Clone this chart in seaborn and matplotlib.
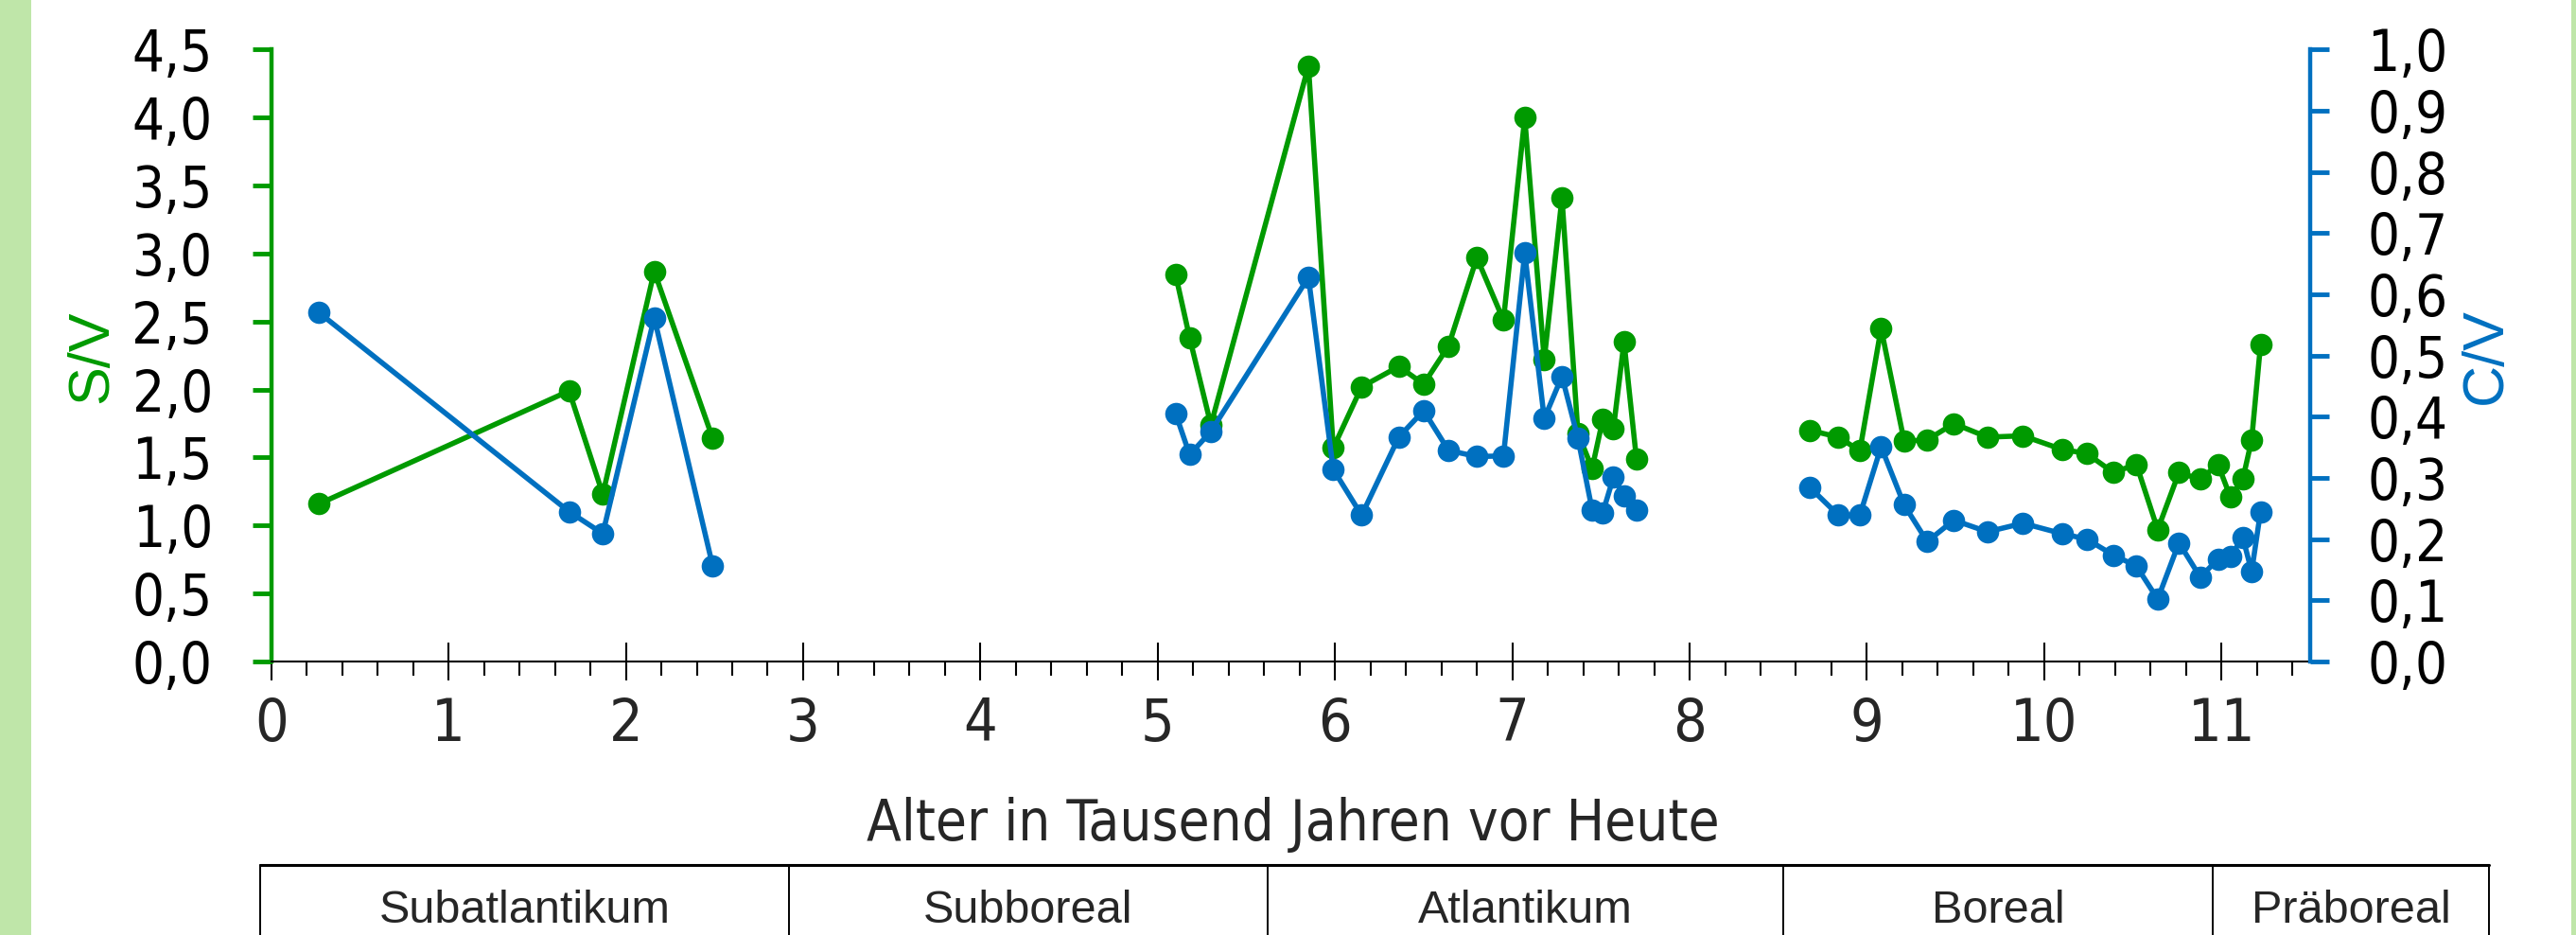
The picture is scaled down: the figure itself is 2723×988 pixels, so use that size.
import matplotlib.pyplot as plt
import matplotlib.transforms as mtransforms
import pandas as pd
import seaborn as sns
from matplotlib import font_manager
from matplotlib.lines import Line2D
from matplotlib.patches import Rectangle
from matplotlib.ticker import FuncFormatter, MultipleLocator

GREEN = "#009a00"
BLUE = "#0070c0"
BAND = "#bfe6a9"

# age in thousand years before present, three sample groups
age = [0.27, 1.68, 1.87, 2.16, 2.49,
       5.10, 5.18, 5.30, 5.85, 5.99, 6.15, 6.36, 6.50, 6.64, 6.80,
       6.95, 7.07, 7.18, 7.28, 7.37, 7.45, 7.51, 7.57, 7.63, 7.70,
       8.68, 8.84, 8.96, 9.08, 9.21, 9.34, 9.49, 9.68, 9.88, 10.10,
       10.24, 10.39, 10.52, 10.64, 10.76, 10.88, 10.98, 11.05, 11.12, 11.17, 11.22]
group = [1] * 5 + [2] * 20 + [3] * 21

# S/V ratio (left axis)
sv = [1.16, 1.99, 1.23, 2.87, 1.64,
      2.85, 2.38, 1.74, 4.38, 1.57, 2.02, 2.17, 2.04, 2.32, 2.97,
      2.51, 4.00, 2.22, 3.41, 1.68, 1.42, 1.78, 1.71, 2.35, 1.49,
      1.70, 1.65, 1.55, 2.45, 1.62, 1.63, 1.75, 1.65, 1.66, 1.56,
      1.53, 1.39, 1.45, 0.97, 1.39, 1.34, 1.45, 1.21, 1.34, 1.63, 2.33]

# C/V ratio (right axis)
cv = [0.570, 0.245, 0.209, 0.562, 0.156,
      0.406, 0.338, 0.376, 0.628, 0.314, 0.239, 0.367, 0.410, 0.345, 0.335,
      0.336, 0.668, 0.397, 0.466, 0.365, 0.248, 0.243, 0.301, 0.271, 0.247,
      0.284, 0.239, 0.239, 0.351, 0.256, 0.196, 0.231, 0.212, 0.226, 0.209,
      0.200, 0.174, 0.156, 0.102, 0.194, 0.138, 0.167, 0.171, 0.203, 0.147, 0.245]

# stratigraphic periods below the chart (edges in thousand years)
periods = ["Subatlantikum", "Subboreal", "Atlantikum", "Boreal", "Präboreal"]
period_edges = [-0.06, 2.92, 5.62, 8.53, 10.95, 12.51]

sns.set_style("white")
names = {f.name for f in font_manager.fontManager.ttflist}
NARROW = "Liberation Sans Narrow" if "Liberation Sans Narrow" in names else "DejaVu Sans"
plt.rcParams["font.family"] = [NARROW, "DejaVu Sans"]
plt.rcParams["font.stretch"] = "condensed"
PLAIN = dict(family=["Liberation Sans", "DejaVu Sans"], fontstretch="normal")

df = pd.DataFrame({"age": age, "group": group, "sv": sv, "cv": cv})

fig = plt.figure(figsize=(27.23, 9.88), dpi=100)
ax = fig.add_axes([0.1053, 0.2925, 0.8968 - 0.1053, 0.9469 - 0.2925])
ax2 = ax.twinx()

line_kw = dict(marker="o", markersize=17, linewidth=4.0, markeredgewidth=0,
               estimator=None, units="group", legend=False)
sns.lineplot(data=df, x="age", y="sv", color=GREEN, ax=ax, **line_kw)
sns.lineplot(data=df, x="age", y="cv", color=BLUE, ax=ax2, **line_kw)

ax.set_xlim(0, 11.5)
ax.set_ylim(0, 4.5)
ax2.set_ylim(0, 1.0)

comma = FuncFormatter(lambda v, pos: f"{v:.1f}".replace(".", ","))
ax.yaxis.set_major_locator(MultipleLocator(0.5))
ax.yaxis.set_major_formatter(comma)
ax2.yaxis.set_major_locator(MultipleLocator(0.1))
ax2.yaxis.set_major_formatter(comma)
ax.xaxis.set_major_locator(MultipleLocator(1))
ax.xaxis.set_minor_locator(MultipleLocator(0.2))

for sp in ["top", "right"]:
    ax.spines[sp].set_visible(False)
for sp in ["top", "left", "bottom"]:
    ax2.spines[sp].set_visible(False)
ax.spines["left"].set_color(GREEN)
ax.spines["left"].set_linewidth(3.2)
ax.spines["bottom"].set_color("black")
ax.spines["bottom"].set_linewidth(1.5)
ax2.spines["right"].set_color(BLUE)
ax2.spines["right"].set_linewidth(3.2)

ax.tick_params(axis="y", direction="out", length=14.5, width=3.5, color=GREEN,
               labelsize=43, pad=30, labelcolor="black", left=True)
ax2.tick_params(axis="y", direction="out", length=14.5, width=3.5, color=BLUE,
                labelsize=43, pad=29, labelcolor="black", right=True)
ax.tick_params(axis="x", which="major", direction="inout", length=29, width=1.5,
               color="black", labelsize=45, pad=12, bottom=True)
ax.tick_params(axis="x", which="minor", direction="out", length=11, width=1.5,
               color="black", bottom=True)
ax.set_xlabel("")
ax.set_ylabel("")
ax2.set_ylabel("")

fig.text(0.502, (988 - 888) / 988, "Alter in Tausend Jahren vor Heute",
         ha="center", va="baseline", fontsize=43)
fig.text(98 / 2723, (988 - 377) / 988, "S/V", rotation=90, ha="center", va="center",
         color=GREEN, fontsize=44, **PLAIN)
fig.text(2628 / 2723, (988 - 376) / 988, "C/V", rotation=90, ha="center", va="center",
         color=BLUE, fontsize=44, **PLAIN)

# green side bands
fig.add_artist(Rectangle((0, 0), 33 / 2723, 1, transform=fig.transFigure,
                         color=BAND, lw=0))
fig.add_artist(Rectangle((2718 / 2723, 0), 5 / 2723, 1, transform=fig.transFigure,
                         color=BAND, lw=0))

# period table
trans = mtransforms.blended_transform_factory(ax.transData, fig.transFigure)
table_top = (988 - 914) / 988
fig.add_artist(Line2D([period_edges[0], period_edges[-1]], [table_top, table_top],
                      transform=trans, color="black", lw=2.2, clip_on=False))
for e in period_edges:
    fig.add_artist(Line2D([e, e], [0, table_top], transform=trans, color="black",
                          lw=1.4, clip_on=False))
for name, a, b in zip(periods, period_edges[:-1], period_edges[1:]):
    fig.text((a + b) / 2, (988 - 962) / 988, name, transform=trans, ha="center",
             va="center", fontsize=35, **PLAIN)

fig.savefig("out.png", dpi=100)
